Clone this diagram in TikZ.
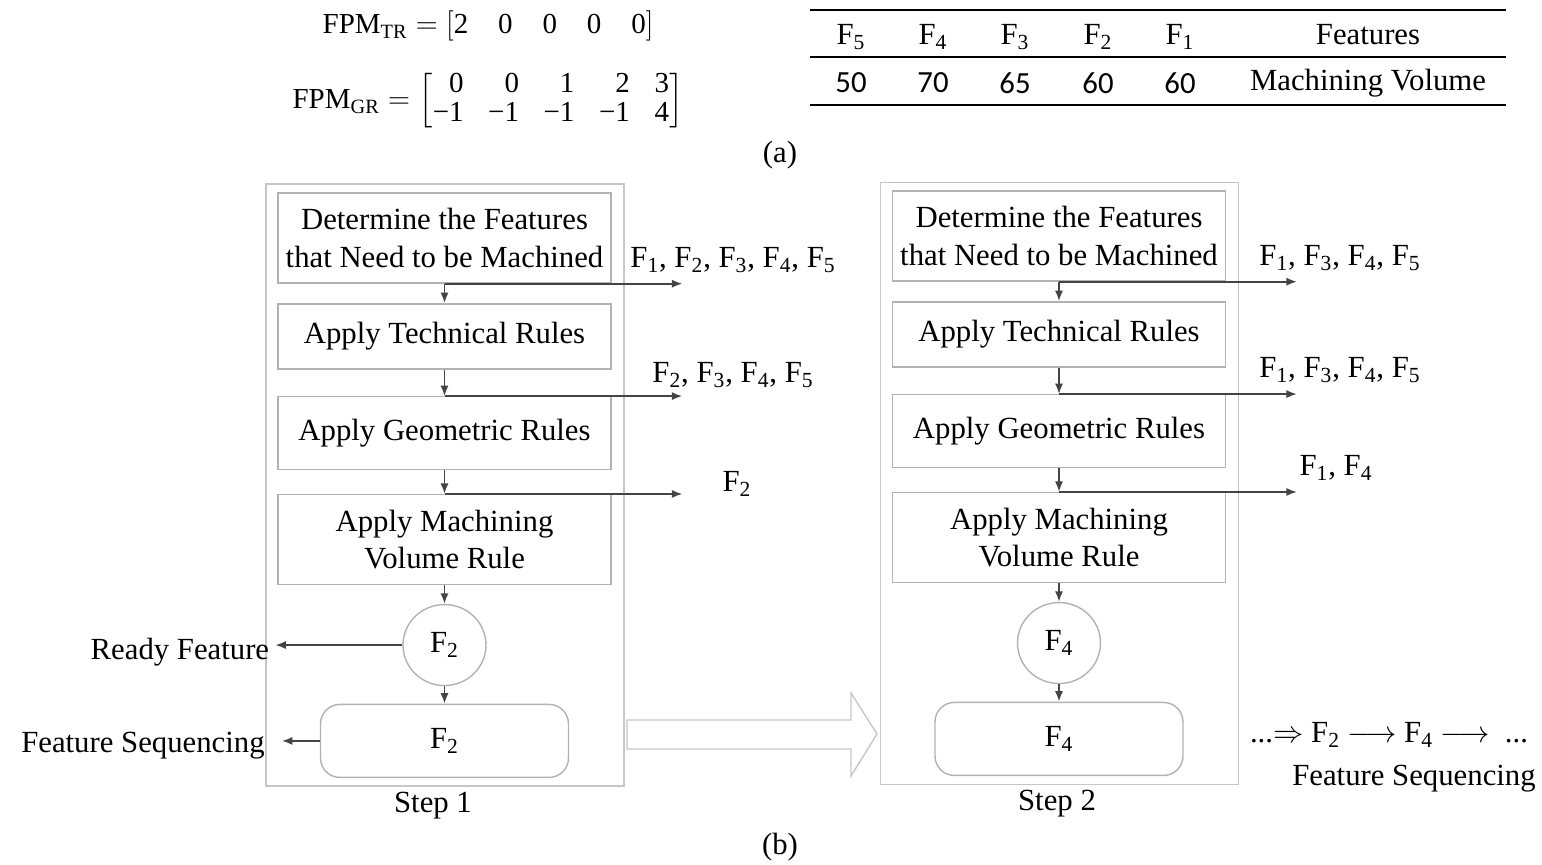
\documentclass[tikz,border=0pt]{standalone}
\usepackage{amsmath}
\usepackage{fontspec}
\setmainfont{Liberation Serif}
\newfontfamily\numfont{Carlito}
\usetikzlibrary{arrows.meta,positioning,shapes.geometric}
\definecolor{boxgray}{HTML}{B2B2B2}
\definecolor{framegray}{HTML}{C6C6C6}
\definecolor{linegray}{HTML}{444444}
\tikzstyle{state}=[draw=boxgray, fill=white, align=center, minimum width=6.66cm, line width=0.8pt]
\tikzstyle{stepbox}=[draw=framegray, line width=0.8pt, minimum width=7.16cm, minimum height=12.04cm]
\tikzstyle{feat}=[draw=boxgray, ellipse, minimum width=1.66cm, minimum height=1.62cm, inner sep=0, line width=0.8pt]
\tikzstyle{ready}=[draw=boxgray, rounded corners=11pt, minimum width=4.96cm, minimum height=1.46cm, line width=0.8pt]
\tikzstyle{flow}=[->, draw=linegray, line width=1pt]
\newcommand{\Fe}[1]{$\mathrm{F}_{\mathrm{#1}}$}

\begin{document}
\begin{tikzpicture}[x=0.02cm,y=-0.02cm,>={Latex[length=6pt,width=4.6pt]},font=\fontsize{17.5}{21.5}\selectfont,align=center]
  \useasboundingbox (0,0) rectangle (1542,865);

  % (a) matrices and table
  \node (tr) at (488,26) {\fontsize{16.5}{19}\selectfont FPM$_{\mathrm{TR}}=[$2\hspace{17pt}0\hspace{17pt}0\hspace{17pt}0\hspace{17pt}0$]$};
  \node (gr) at (488,101) {\fontsize{16.5}{19}\selectfont FPM$_{\mathrm{GR}}=\left[\vcenter{\hbox{\tabcolsep=7pt\renewcommand{\arraystretch}{0.86}\begin{tabular}{@{}rrrrr@{}}0&0&1&2&3\\−1&−1&−1&−1&4\end{tabular}}}\right]$};
  \draw [line width=0.9pt] (810,10) -- (1506,10) (810,57) -- (1506,57) (810,105) -- (1506,105);
  \node (h5) at (851,37) {\Fe{5}};   \node (v5) at (851,83) {\numfont 50};
  \node (h4) at (933,37) {\Fe{4}};   \node (v4) at (933,83) {\numfont 70};
  \node (h3) at (1015,37) {\Fe{3}};  \node (v3) at (1015,83) {\numfont 65};
  \node (h2) at (1098,37) {\Fe{2}};  \node (v2) at (1098,83) {\numfont 60};
  \node (h1) at (1180,37) {\Fe{1}};  \node (v1) at (1180,83) {\numfont 60};
  \node (hf) at (1368,35) {Features}; \node (vm) at (1368,83) {Machining Volume};
  \node (capa) at (780,155) {(a)};

  % Step 1
  \node [stepbox] (s1) at (445,485) {};
  \node [state, minimum height=1.8cm] (a1) at (444.5,238) {Determine the Features\\that Need to be Machined};
  \node [state, minimum height=1.3cm] (b1) [below=.39cm of a1] {Apply Technical Rules};
  \node [state, minimum height=1.46cm] (c1) [below=.53cm of b1] {Apply Geometric Rules};
  \node [state, minimum height=1.8cm] (d1) [below=.47cm of c1] {Apply Machining\\Volume Rule};
  \node [feat] (e1) [below=.37cm of d1] {\Fe{2}};
  \node [ready] (f1) [below=.35cm of e1] {\Fe{2}};
  \coordinate (t11) at ([xshift=4.76cm]a1.south);
  \coordinate (t12) at ([xshift=4.76cm]c1.north);
  \coordinate (t13) at ([xshift=4.76cm]d1.north);
  \coordinate (r1) at ([xshift=-2.54cm]e1.west);
  \coordinate (q1) at ([xshift=-.76cm]f1.west);
  \node (l11) at (733,260) {\Fe{1}, \Fe{2}, \Fe{3}, \Fe{4}, \Fe{5}};
  \node (l12) at (733,375) {\Fe{2}, \Fe{3}, \Fe{4}, \Fe{5}};
  \node (l13) at (737,484) {\Fe{2}};
  \node (rf) [left=0cm of r1, yshift=-.14cm] {Ready Feature};
  \node (fs1) [left=.22cm of q1, yshift=-.1cm] {Feature Sequencing};
  \node (st1) at (433,806) {Step 1};
  \draw [flow] (a1) -- (b1);
  \draw [flow] (b1) -- (c1);
  \draw [flow] (c1) -- (d1);
  \draw [flow] (d1) -- (e1);
  \draw [flow] (e1) -- (f1);
  \draw [flow] (a1.south) -- (t11);
  \draw [flow] (c1.north) -- (t12);
  \draw [flow] (d1.north) -- (t13);
  \draw [flow] (e1) -- (r1);
  \draw [flow] (f1) -- (q1);

  % hollow arrow
  \draw [framegray, line width=0.8pt] (627,720) -- (851,720) -- (851,693) -- (877,734) -- (851,776) -- (851,749) -- (627,749) -- cycle;

  % Step 2
  \node [stepbox] (s2) at (1059.5,483.5) {};
  \node [state, minimum height=1.8cm] (a2) at (1059,236) {Determine the Features\\that Need to be Machined};
  \node [state, minimum height=1.3cm] (b2) [below=.39cm of a2] {Apply Technical Rules};
  \node [state, minimum height=1.46cm] (c2) [below=.53cm of b2] {Apply Geometric Rules};
  \node [state, minimum height=1.8cm] (d2) [below=.47cm of c2] {Apply Machining\\Volume Rule};
  \node [feat] (e2) [below=.37cm of d2] {\Fe{4}};
  \node [ready] (f2) [below=.35cm of e2] {\Fe{4}};
  \coordinate (t21) at ([xshift=4.76cm]a2.south);
  \coordinate (t22) at ([xshift=4.76cm]c2.north);
  \coordinate (t23) at ([xshift=4.76cm]d2.north);
  \node (l21) at (1340,258) {\Fe{1}, \Fe{3}, \Fe{4}, \Fe{5}};
  \node (l22) at (1340,370) {\Fe{1}, \Fe{3}, \Fe{4}, \Fe{5}};
  \node (l23) at (1336,468) {\Fe{1}, \Fe{4}};
  \node (seq) at (1389,735) {...$\Rightarrow$ \Fe{2} $\longrightarrow$ \Fe{4} $\longrightarrow$\ \ ...};
  \node (fs2) at (1414,779) {Feature Sequencing};
  \node (st2) at (1057,804) {Step 2};
  \draw [flow] (a2) -- (b2);
  \draw [flow] (b2) -- (c2);
  \draw [flow] (c2) -- (d2);
  \draw [flow] (d2) -- (e2);
  \draw [flow] (e2) -- (f2);
  \draw [flow] (a2.south) -- (t21);
  \draw [flow] (c2.north) -- (t22);
  \draw [flow] (d2.north) -- (t23);
  \node (capb) at (780,847) {(b)};
\end{tikzpicture}
\end{document}
